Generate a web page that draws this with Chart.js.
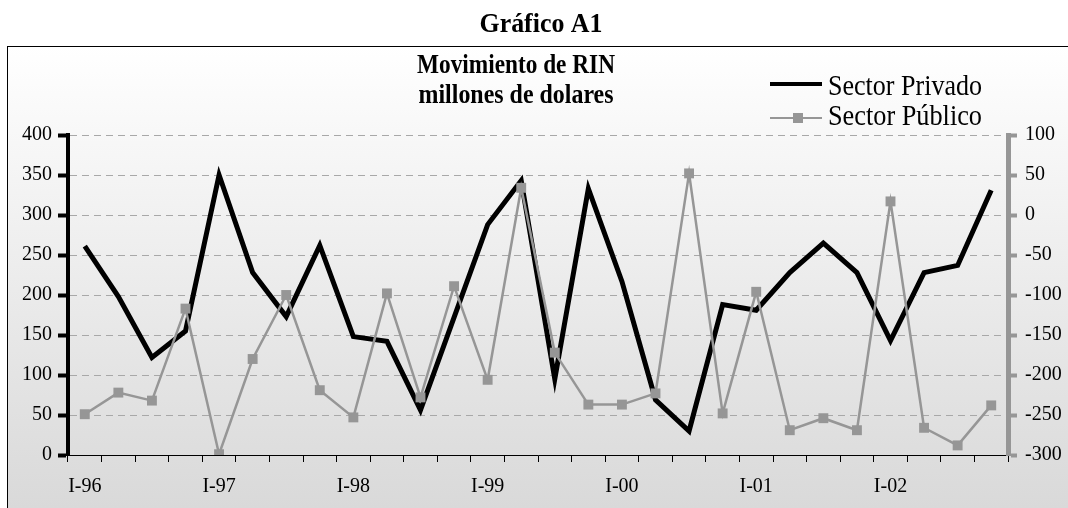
<!DOCTYPE html>
<html lang="es">
<head>
    <meta charset="UTF-8">
    <title>Gráfico A1</title>
    <script src="https://cdn.jsdelivr.net/npm/chart.js"></script>
    <style>
        body { margin: 0; background: #fff; overflow: hidden; }
        canvas { display: block; }
    </style>
</head>
<body>
    <canvas id="rinChart" width="1068" height="508"></canvas>
    <script>
        // Trimestres I-96 .. IV-02
        const quarters = [
            'I-96', 'II-96', 'III-96', 'IV-96',
            'I-97', 'II-97', 'III-97', 'IV-97',
            'I-98', 'II-98', 'III-98', 'IV-98',
            'I-99', 'II-99', 'III-99', 'IV-99',
            'I-00', 'II-00', 'III-00', 'IV-00',
            'I-01', 'II-01', 'III-01', 'IV-01',
            'I-02', 'II-02', 'III-02', 'IV-02'
        ];

        // Sector privado (eje izquierdo)
        const privado = [261, 198, 122, 155, 350, 228, 173, 262, 148, 142, 56, 172, 288, 343,
                         95, 333, 217, 69, 30, 188, 181, 228, 265, 228, 143, 228, 237, 331];

        // Sector público (eje derecho)
        const publico = [-249, -222, -232, -117, -299, -180, -100, -219, -253, -98, -228, -89, -206, 34,
                         -172, -237, -237, -223, 52, -248, -96, -269, -254, -269, 17, -266, -288, -238];

        const leftTicks = { min: 0, max: 400, step: 50 };
        const rightTicks = { min: -300, max: 100, step: 50 };

        const serif = '"Liberation Serif", "Times New Roman", serif';
        const gray = '#969696';

        // texto algo comprimido en horizontal, como en la imagen original
        function fitText(c, text, x, y, font, width, align) {
            c.font = font;
            const w = c.measureText(text).width;
            const s = width / w;
            c.save();
            c.translate(x, y);
            c.scale(s, 1);
            c.textAlign = align;
            c.fillText(text, 0, 0);
            c.restore();
        }

        // marco con degradado
        const frame = {
            id: 'frame',
            beforeDraw(chart) {
                const c = chart.ctx;
                c.save();
                c.fillStyle = '#fff';
                c.fillRect(0, 0, chart.width, chart.height);
                const g = c.createLinearGradient(0, 46, 0, 508);
                g.addColorStop(0, '#ffffff');
                g.addColorStop(1, '#d9d9d9');
                c.fillStyle = g;
                c.fillRect(7, 46, chart.width, chart.height);
                c.strokeStyle = '#000';
                c.lineWidth = 1;
                c.strokeRect(7.5, 46.5, chart.width + 10, chart.height + 10);
                c.restore();
            }
        };

        // titulos y leyenda
        const titleLegend = {
            id: 'titleLegend',
            afterDraw(chart) {
                const c = chart.ctx;
                c.save();
                c.fillStyle = '#000';
                c.textBaseline = 'alphabetic';
                fitText(c, 'Gráfico A1', 541, 32, 'bold 28px ' + serif, 123, 'center');
                fitText(c, 'Movimiento de RIN', 516, 73, 'bold 28px ' + serif, 198, 'center');
                fitText(c, 'millones de dolares', 516, 103, 'bold 28px ' + serif, 195, 'center');

                c.strokeStyle = '#000';
                c.lineWidth = 4;
                c.beginPath();
                c.moveTo(770, 84);
                c.lineTo(822, 84);
                c.stroke();
                fitText(c, 'Sector Privado', 828, 95, '30px ' + serif, 154, 'left');

                c.strokeStyle = gray;
                c.lineWidth = 2;
                c.beginPath();
                c.moveTo(770, 118);
                c.lineTo(822, 118);
                c.stroke();
                c.fillStyle = gray;
                c.fillRect(793, 113, 10, 10);
                c.fillStyle = '#000';
                fitText(c, 'Sector Público', 828, 125, '30px ' + serif, 154, 'left');
                c.restore();
            }
        };

        const ctx = document.getElementById('rinChart').getContext('2d');
        const rinChart = new Chart(ctx, {
            type: 'line',
            data: {
                labels: quarters,
                datasets: [{
                    label: 'Sector Privado',
                    data: privado,
                    yAxisID: 'y',
                    borderColor: '#000',
                    borderWidth: 5,
                    pointRadius: 0,
                    tension: 0,
                    order: 2
                }, {
                    label: 'Sector Público',
                    data: publico,
                    yAxisID: 'y1',
                    borderColor: gray,
                    borderWidth: 2.5,
                    pointStyle: 'rect',
                    pointRadius: 7,
                    pointBackgroundColor: gray,
                    pointBorderColor: gray,
                    pointBorderWidth: 0,
                    tension: 0,
                    order: 1
                }]
            },
            options: {
                responsive: false,
                animation: false,
                layout: { padding: { top: 135, left: 0, right: 0, bottom: 0 } },
                plugins: { legend: { display: false }, tooltip: { enabled: false } },
                scales: {
                    x: {
                        offset: true,
                        afterFit: s => { s.height = 53; },
                        grid: { offset: true, drawOnChartArea: false, drawTicks: true, tickLength: 7,
                                tickColor: '#000', tickWidth: 1 },
                        border: { color: '#000', width: 1 },
                        ticks: {
                            autoSkip: false, maxRotation: 0, padding: 13,
                            color: '#000', font: { family: serif, size: 20 },
                            callback: (v, i) => (i % 4 === 0 ? quarters[i] : '')
                        }
                    },
                    y: {
                        position: 'left',
                        min: leftTicks.min, max: leftTicks.max,
                        afterFit: s => { s.width = 68; },
                        grid: { color: '#a8a8a8', lineWidth: 1, tickLength: 10, tickColor: '#000',
                                tickWidth: 4, tickBorderDash: [] },
                        border: { color: '#000', width: 4, dash: [7, 5] },
                        ticks: { stepSize: leftTicks.step, padding: 6, color: '#000',
                                 font: { family: serif, size: 20 } }
                    },
                    y1: {
                        position: 'right',
                        min: rightTicks.min, max: rightTicks.max,
                        afterFit: s => { s.width = 60; },
                        grid: { drawOnChartArea: false, tickLength: 9, tickColor: gray, tickWidth: 4 },
                        border: { color: gray, width: 5 },
                        ticks: { stepSize: rightTicks.step, padding: 8, color: '#000',
                                 font: { family: serif, size: 20 } }
                    }
                }
            },
            plugins: [frame, titleLegend]
        });
    </script>
</body>
</html>
